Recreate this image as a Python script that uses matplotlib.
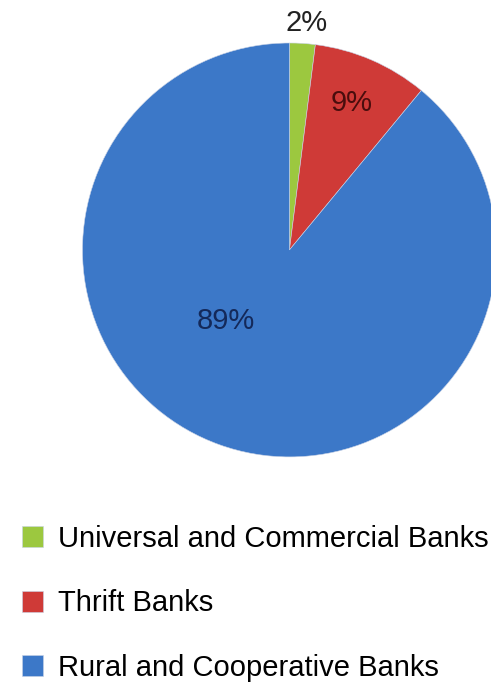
import numpy as np
import matplotlib
matplotlib.use("Agg")
import matplotlib.pyplot as plt

# bank types and their share of the total
categories = ["Universal and Commercial Banks", "Thrift Banks", "Rural and Cooperative Banks"]
shares = [2, 9, 89]

colors = ["#9cc83f", "#cf3a37", "#3c78c8"]
label_colors = ["#222222", "#4a0d0d", "#14295a"]
# (radius, angle in degrees) of each percent label, measured from the pie centre
label_pos = [(1.10, 85.6), (0.77, 67.0), (0.46, -132.0)]

plt.rcParams["font.family"] = ["Liberation Sans", "DejaVu Sans"]

fig = plt.figure(figsize=(4.91, 6.82), dpi=100)
ax = fig.add_axes([0.168, 0.33, 0.843, 0.607])

wedges, texts, autotexts = ax.pie(
    shares,
    colors=colors,
    startangle=90,
    counterclock=False,
    autopct=lambda p: f"{p:.0f}%",
    wedgeprops=dict(edgecolor="#c9d3e6", linewidth=0.4),
    textprops=dict(fontsize=21),
)
for t, (r, a), c in zip(autotexts, label_pos, label_colors):
    t.set_position((r * np.cos(np.radians(a)), r * np.sin(np.radians(a))))
    t.set_color(c)

ax.set_xlim(-1, 1)
ax.set_ylim(-1, 1)
ax.set_aspect("equal")
ax.axis("off")

fig.legend(
    wedges, categories,
    loc="upper left",
    bbox_to_anchor=(22 / 491, 1 - 525 / 682),
    frameon=False,
    fontsize=21,
    handlelength=0.72,
    handleheight=0.72,
    handletextpad=0.5,
    labelspacing=1.25,
    borderpad=0,
    borderaxespad=0,
)

fig.savefig("out.png", dpi=100)
